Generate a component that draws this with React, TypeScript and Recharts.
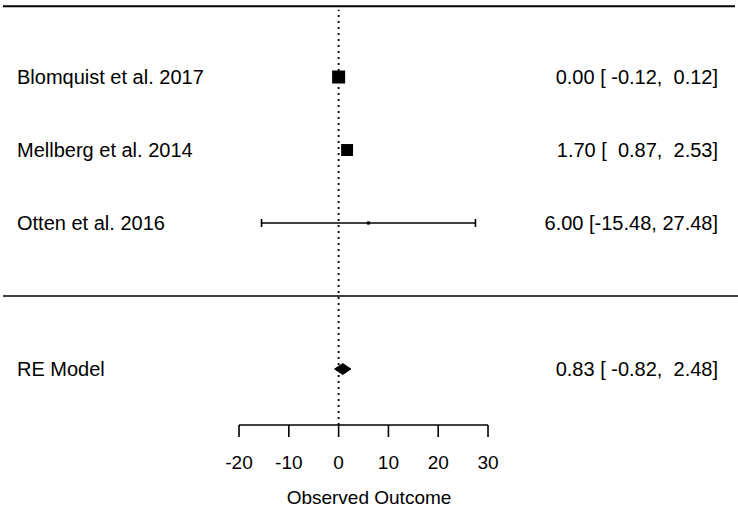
import {
  Area,
  ComposedChart,
  ErrorBar,
  ReferenceLine,
  Scatter,
  XAxis,
  YAxis,
} from "recharts";

// study-level results (estimate + 95% CI), RE model weights in %
const studies = ["Blomquist et al. 2017", "Mellberg et al. 2014", "Otten et al. 2016"];
const studyRows = [5, 4, 3];
const estimates = [0.0, 1.7, 6.0];
const ciLower = [-0.12, 0.87, -15.48];
const ciUpper = [0.12, 2.53, 27.48];
const weights = [52.4, 46.9, 0.7];

// pooled random-effects result
const reLabel = "RE Model";
const reRow = 1;
const reEstimate = 0.83;
const reLower = -0.82;
const reUpper = 2.48;

const xTicks = [-20, -10, 0, 10, 20, 30];
const xTitle = "Observed Outcome";

// layout
const W = 738;
const H = 511;
const X_MIN = -68;
const X_MAX = 80.2;
const Y_MIN = 0.233;
const Y_MAX = 6.055;
const FONT = "'Liberation Sans', Arial, sans-serif";
const FS = 19;
const ROW_FS = 20;

const maxWeight = Math.max(...weights);

// column-aligned like metafor: lower bound padded to 6 chars, upper to 5
const summary = (est: number, lo: number, hi: number) =>
  `${est.toFixed(2)} [${lo.toFixed(2).padStart(6, " ")}, ${hi.toFixed(2).padStart(5, " ")}]`;

const studyData = studies.map((name, i) => ({
  name,
  x: estimates[i],
  y: studyRows[i],
  weight: weights[i],
  err: [estimates[i] - ciLower[i], ciUpper[i] - estimates[i]],
}));

// diamond outline for the pooled estimate (range area: [low, high])
const diamondHalf = 0.075;
const diamond = [
  { x: reLower, band: [reRow, reRow] },
  { x: reEstimate, band: [reRow - diamondHalf, reRow + diamondHalf] },
  { x: reUpper, band: [reRow, reRow] },
];

// one text row per study + the pooled row
const labelData = [
  ...studies.map((s, i) => ({
    x: estimates[i],
    y: studyRows[i],
    left: s,
    right: summary(estimates[i], ciLower[i], ciUpper[i]),
  })),
  { x: reEstimate, y: reRow, left: reLabel, right: summary(reEstimate, reLower, reUpper) },
];

function RowText(props: any) {
  const { cy, payload } = props;
  return (
    <g>
      <text x={17} y={cy} dy="0.35em" fontSize={ROW_FS} fill="#000" textAnchor="start">
        {payload.left}
      </text>
      <text
        x={718}
        y={cy}
        dy="0.35em"
        fontSize={ROW_FS}
        fill="#000"
        textAnchor="end"
        style={{ whiteSpace: "pre" }}
      >
        {payload.right}
      </text>
    </g>
  );
}

function SquareShape(props: any) {
  const { cx, cy, payload } = props;
  const s = 3 + (10 * payload.weight) / maxWeight;
  return <rect x={cx - s / 2} y={cy - s / 2} width={s} height={s} fill="#000" />;
}

export default function App() {
  return (
    <div style={{ position: "fixed", left: 0, top: 0, background: "#fff" }}>
      <ComposedChart
        width={W}
        height={H}
        data={diamond}
        margin={{ top: 0, right: 0, bottom: 0, left: 0 }}
        style={{ fontFamily: FONT }}
      >
        <XAxis
          type="number"
          dataKey="x"
          domain={[X_MIN, X_MAX]}
          allowDataOverflow
          ticks={xTicks}
          interval={0}
          height={86}
          axisLine={false}
          tickLine={{ stroke: "#000", strokeWidth: 1.6 }}
          tickSize={12}
          tickMargin={19}
          tick={{ fill: "#000", fontSize: FS }}
          label={{
            value: xTitle,
            position: "insideBottom",
            offset: 7,
            fill: "#000",
            fontSize: FS,
          }}
        />
        <YAxis
          type="number"
          dataKey="y"
          domain={[Y_MIN, Y_MAX]}
          allowDataOverflow
          width={0}
          hide
        />
        <ReferenceLine
          segment={[
            { x: X_MIN + 0.6, y: 5.97 },
            { x: X_MAX - 0.6, y: 5.97 },
          ]}
          stroke="#000"
          strokeWidth={2}
          ifOverflow="visible"
        />
        <ReferenceLine
          segment={[
            { x: X_MIN + 0.6, y: 2 },
            { x: X_MAX, y: 2 },
          ]}
          stroke="#000"
          strokeWidth={1.6}
          ifOverflow="visible"
        />
        <ReferenceLine
          segment={[
            { x: 0, y: Y_MIN },
            { x: 0, y: 5.92 },
          ]}
          stroke="#000"
          strokeWidth={1.8}
          strokeDasharray="2 4"
          ifOverflow="visible"
        />
        <ReferenceLine
          segment={[
            { x: xTicks[0], y: Y_MIN },
            { x: xTicks[xTicks.length - 1], y: Y_MIN },
          ]}
          stroke="#000"
          strokeWidth={1.6}
          ifOverflow="visible"
        />
        <Area
          type="linear"
          dataKey="band"
          stroke="#000"
          strokeWidth={1}
          fill="#000"
          fillOpacity={1}
          dot={false}
          activeDot={false}
          isAnimationActive={false}
        />
        <Scatter data={studyData} shape={<SquareShape />} isAnimationActive={false}>
          <ErrorBar
            dataKey="err"
            direction="x"
            width={4}
            stroke="#000"
            strokeWidth={1.6}
            isAnimationActive={false}
          />
        </Scatter>
        <Scatter data={labelData} shape={<RowText />} isAnimationActive={false} />
      </ComposedChart>
    </div>
  );
}
